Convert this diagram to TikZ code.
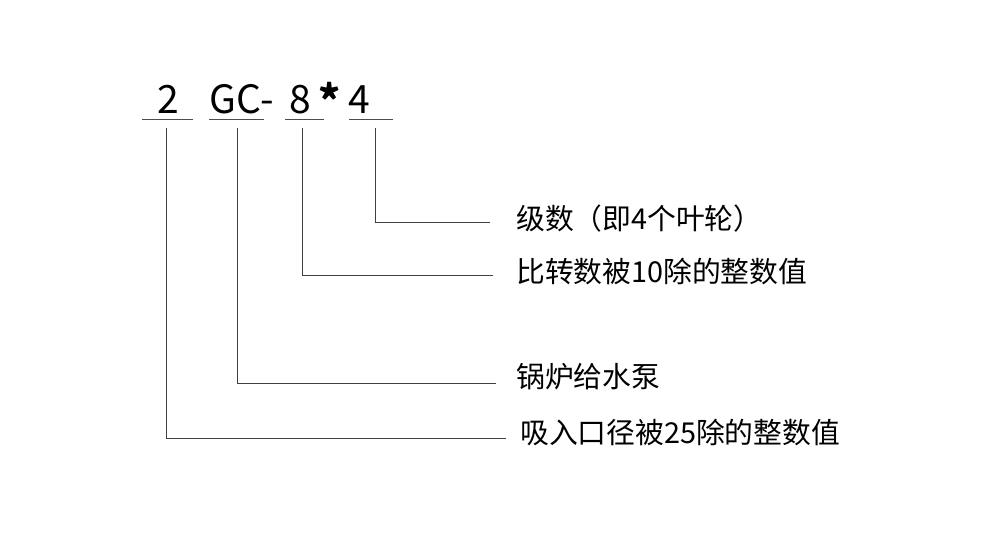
\documentclass[tikz,border=0pt]{standalone}
\usepackage{fontspec}
\setmainfont{Noto Sans CJK SC}
\begin{document}
\begin{tikzpicture}[x=1pt,y=-1pt,
	code/.style={anchor=base,inner sep=0pt,font=\fontsize{39}{44}\selectfont},
	note/.style={anchor=west,inner sep=0pt,font=\fontsize{28.8}{32}\selectfont},
	rule/.style={draw=black!70,line width=1pt},
	lead/.style={draw=black!75,line width=1pt}]
			\useasboundingbox (0,0) rectangle (993,539);
			% model code
			\node[code] (n2) at (168,113) {2};
			\node[code] (ngc) at (242,113) {GC-};
			\node[code] (n8) at (300,113) {8};
			\node[code,font=\fontsize{42}{44}\selectfont\bfseries] (nst) at (329.5,116) {*};
			\node[code] (n4) at (359,113) {4};
			\draw[rule] (142,119)--(193,119);
			\draw[rule] (209,119)--(264,119);
			\draw[rule] (285,119)--(324,119);
			\draw[rule] (349,119)--(393,119);
			% meanings
			\node[note] (m4) at (516,219) {级数（即4个叶轮）};
			\node[note] (m8) at (516,271) {比转数被10除的整数值};
			\node[note] (mgc) at (516,377) {锅炉给水泵};
			\node[note] (m2) at (520,432) {吸入口径被25除的整数值};
			\coordinate (t4) at (375,128);
			\coordinate (t8) at (302,128);
			\coordinate (tgc) at (237,128);
			\coordinate (t2) at (166,128);
			\coordinate (e4) at (490,222);
			\coordinate (e8) at (493,275);
			\coordinate (egc) at (496,383);
			\coordinate (e2) at (506,438);
			\draw[lead] (t4) |- (e4);
			\draw[lead] (t8) |- (e8);
			\draw[lead] (tgc) |- (egc);
			\draw[lead] (t2) |- (e2);
		\end{tikzpicture}
\end{document}
